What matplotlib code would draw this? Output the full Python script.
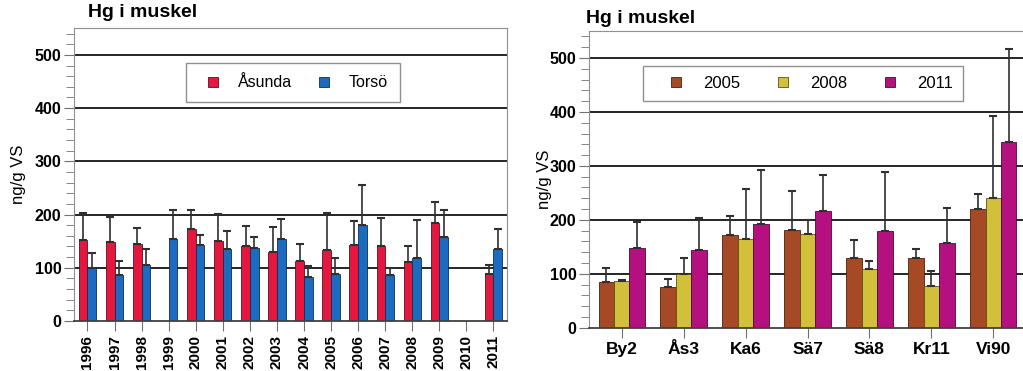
import numpy as np
import matplotlib
matplotlib.use('Agg')
import matplotlib.pyplot as plt
import matplotlib.ticker as ticker
from matplotlib.lines import Line2D

plt.rcParams['font.family'] = ['Liberation Sans', 'DejaVu Sans']

# left panel: Åsunda vs Torsö per year
years = ['1996', '1997', '1998', '1999', '2000', '2001', '2002', '2003',
         '2004', '2005', '2006', '2007', '2008', '2009', '2010', '2011']
asunda = [153, 148, 144, np.nan, 172, 151, 140, 129, 112, 134, 143, 140, 110, 184, np.nan, 88]
asunda_err = [50, 48, 30, np.nan, 37, 50, 38, 47, 32, 69, 44, 53, 30, 40, np.nan, 17]
torso = [100, 87, 106, 155, 143, 136, 138, 155, 82, 89, 180, 87, 119, 158, np.nan, 136]
torso_err = [28, 26, 30, 53, 18, 34, 20, 36, 21, 30, 76, 13, 70, 51, np.nan, 37]

# right panel: stations, three years
stations = ['By2', 'Ås3', 'Ka6', 'Sä7', 'Sä8', 'Kr11', 'Vi90']
y2005 = [84, 75, 171, 182, 129, 130, 220]
y2005_err = [26, 16, 37, 72, 33, 16, 28]
y2008 = [86, 100, 164, 174, 108, 78, 241]
y2008_err = [2, 30, 94, 26, 16, 27, 151]
y2011 = [147, 144, 192, 216, 180, 157, 345]
y2011_err = [49, 59, 101, 68, 108, 64, 171]

GRAY = '#707070'
ERR = '#303030'


def style_axes(ax):
    ax.set_ylim(0, 550)
    ax.yaxis.set_major_locator(ticker.MultipleLocator(100))
    ax.yaxis.set_minor_locator(ticker.MultipleLocator(20))
    for y in range(100, 501, 100):
        ax.axhline(y, color='black', linewidth=1.2, zorder=0)
    for s in ['top', 'right', 'left']:
        ax.spines[s].set_color('#909090')
    ax.spines['bottom'].set_color('#404040')
    ax.spines['bottom'].set_linewidth(1.3)
    ax.tick_params(axis='y', which='major', length=7, color=GRAY, labelsize=11.5, pad=2)
    ax.tick_params(axis='y', which='minor', length=6, color=GRAY)
    ax.tick_params(axis='x', length=7, color=GRAY)
    for lab in ax.get_yticklabels():
        lab.set_fontweight('bold')
    ax.set_ylabel('ng/g VS', fontsize=12)


def err(errs):
    return [np.zeros(len(errs)), np.nan_to_num(errs)]


def handle(color, edge, label):
    return Line2D([], [], linestyle='none', marker='s', markersize=6.5,
                  markerfacecolor=color, markeredgecolor=edge, markeredgewidth=0.6, label=label)


fig = plt.figure(figsize=(10.23, 3.71), dpi=100)
ekw = dict(ecolor=ERR, elinewidth=1.2, capsize=3, capthick=1.5)

# ---- left
ax1 = fig.add_axes([0.0723, 0.1348, 0.4233, 0.7889])
x = np.arange(len(years))
w = 0.32
ax1.bar(x - w / 2, asunda, w, color='#E5173F', edgecolor='#5a1020', linewidth=0.6,
        yerr=err(asunda_err), error_kw=ekw, zorder=2)
ax1.bar(x + w / 2, torso, w, color='#1C6BBE', edgecolor='#0d2f55', linewidth=0.6,
        yerr=err(torso_err), error_kw=ekw, zorder=2)
ax1.set_xlim(-0.5, 15.5)
ax1.set_xticks(x)
ax1.set_xticklabels(years, rotation=90, fontsize=11, fontweight='bold')
ax1.tick_params(axis='x', pad=3)
style_axes(ax1)
ax1.yaxis.set_label_coords(-0.11, 0.5)
ax1.set_title('Hg i muskel', fontsize=14, fontweight='bold', loc='left', x=0.033, pad=8)
h1 = [handle('#E5173F', '#5a1020', 'Åsunda'), handle('#1C6BBE', '#0d2f55', 'Torsö')]
leg1 = ax1.legend(handles=h1, ncol=2, loc='upper left', bbox_to_anchor=(0.258, 0.88),
                  fancybox=False, edgecolor='#909090', framealpha=1, fontsize=11.5,
                  handlelength=1.9, handletextpad=0.6, columnspacing=1.05,
                  borderpad=0.75, borderaxespad=0)
leg1.get_frame().set_linewidth(1.0)

# ---- right
ax2 = fig.add_axes([0.5758, 0.1167, 0.4242, 0.7997])
x2 = np.arange(len(stations))
w2 = 0.25
ax2.bar(x2 - w2, y2005, w2, color='#A64A26', edgecolor='#4a2010', linewidth=0.6,
        yerr=err(y2005_err), error_kw=ekw, zorder=2)
ax2.bar(x2, y2008, w2, color='#D2C03A', edgecolor='#5a5010', linewidth=0.6,
        yerr=err(y2008_err), error_kw=ekw, zorder=2)
ax2.bar(x2 + w2, y2011, w2, color='#B4107F', edgecolor='#50073a', linewidth=0.6,
        yerr=err(y2011_err), error_kw=ekw, zorder=2)
ax2.set_xlim(-0.528, 6.48)
ax2.set_xticks(x2)
ax2.set_xticklabels(stations, fontsize=12.5, fontweight='bold')
style_axes(ax2)
ax2.spines['right'].set_visible(False)
ax2.yaxis.set_label_coords(-0.085, 0.5)
ax2.set_title('Hg i muskel', fontsize=14, fontweight='bold', loc='left', x=-0.007, pad=6)
h2 = [handle('#A64A26', '#4a2010', '2005'), handle('#D2C03A', '#5a5010', '2008'),
      handle('#B4107F', '#50073a', '2011')]
leg2 = ax2.legend(handles=h2, ncol=3, loc='upper left', bbox_to_anchor=(0.124, 0.883),
                  fancybox=False, edgecolor='#909090', framealpha=1, fontsize=12,
                  handlelength=2.8, handletextpad=0.2, columnspacing=1.2,
                  borderpad=0.6, borderaxespad=0)
leg2.get_frame().set_linewidth(1.0)

fig.savefig('out.png', dpi=100)
